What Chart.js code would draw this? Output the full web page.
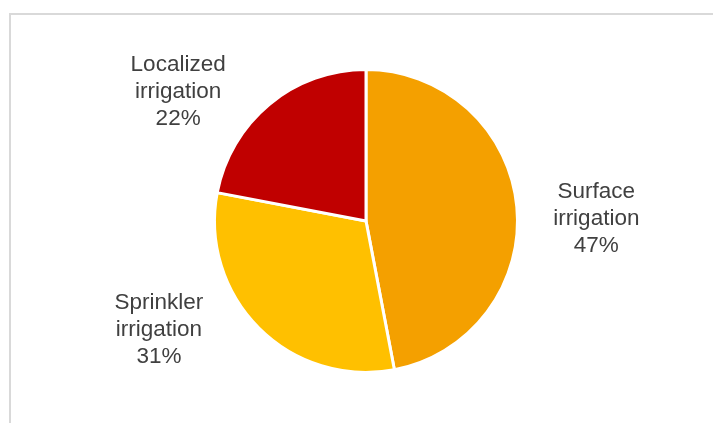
<!DOCTYPE html>
<html>
<head>
<meta charset="utf-8">
<script src="https://cdn.jsdelivr.net/npm/chart.js@4/dist/chart.umd.min.js"></script>
<style>
  body { margin: 0; background: #fff; }
  #wrap { position: relative; width: 713px; height: 423px; overflow: hidden; }
  #frame {
    position: absolute; left: 9px; top: 13px; width: 760px; height: 460px;
    border-top: 2px solid #d9d9d9; border-left: 2px solid #d9d9d9;
    pointer-events: none;
  }
  canvas { position: absolute; left: 0; top: 0; }
</style>
</head>
<body>
<div id="wrap">
  <div id="frame"></div>
  <canvas id="pie" width="713" height="423"></canvas>
</div>
<script>
const categories = ["Surface irrigation", "Sprinkler irrigation", "Localized irrigation"];
const shares = [47, 31, 22];
const sliceColors = ["#f4a000", "#ffc000", "#c00000"];

// where each label block sits, in units of the pie radius from its centre
const labelAnchors = [
  [1.52, 0.027],
  [-1.367, 0.76],
  [-1.24, -0.813],
];

const outsideLabels = {
  id: "outsideLabels",
  afterDatasetsDraw(chart) {
    const ctx = chart.ctx;
    const arcs = chart.getDatasetMeta(0).data;
    ctx.save();
    ctx.font = "22.5px 'Liberation Sans', Arial, sans-serif";
    ctx.fillStyle = "#404040";
    ctx.textAlign = "center";
    ctx.textBaseline = "alphabetic";
    arcs.forEach((arc, i) => {
      const r = arc.outerRadius;
      const x = arc.x + labelAnchors[i][0] * r;
      const y = arc.y + labelAnchors[i][1] * r;
      const words = categories[i].split(" ");
      const lines = [words[0], words[1], shares[i] + "%"];
      lines.forEach((t, k) => ctx.fillText(t, x, y + (k - 1) * 27));
    });
    ctx.restore();
  },
};

new Chart(document.getElementById("pie"), {
  type: "pie",
  data: {
    labels: categories,
    datasets: [
      {
        data: shares,
        backgroundColor: sliceColors,
        borderColor: "#ffffff",
        borderWidth: 3,
      },
    ],
  },
  options: {
    responsive: false,
    animation: false,
    layout: { padding: { left: 213, right: 194, top: 68, bottom: 49 } },
    plugins: {
      legend: { display: false },
      tooltip: { enabled: false },
    },
  },
  plugins: [outsideLabels],
});
</script>
</body>
</html>
